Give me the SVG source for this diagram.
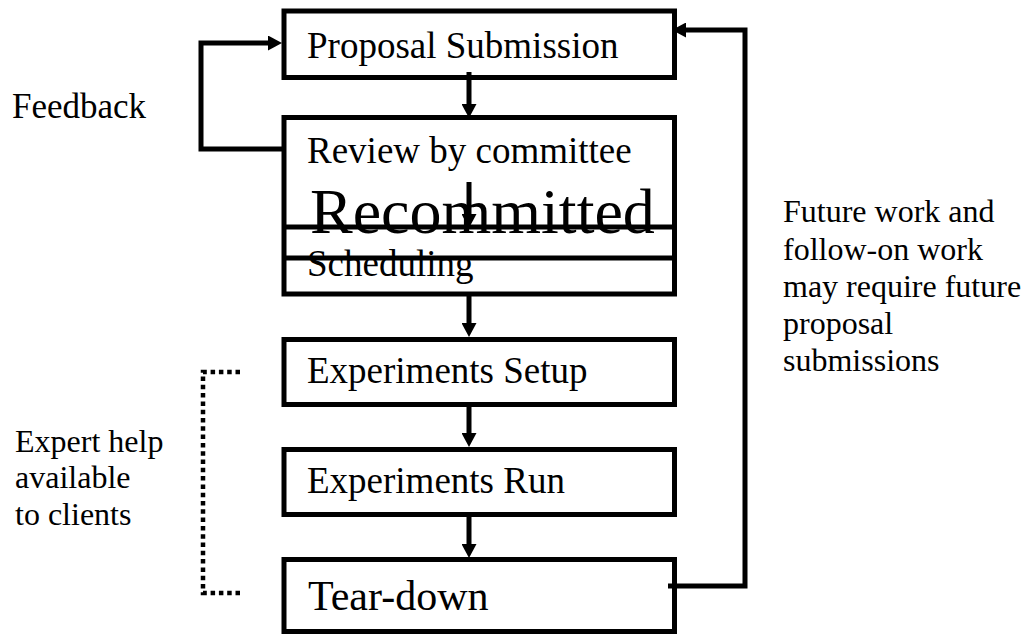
<svg xmlns="http://www.w3.org/2000/svg" width="1033" height="634" viewBox="0 0 1033 634" font-family="'Liberation Serif', 'Times New Roman', Times, 'DejaVu Serif', serif">
<defs>
<style>
.box{fill:none;stroke:#000;stroke-width:5}
.ln{fill:none;stroke:#000;stroke-width:5}
.dot{fill:none;stroke:#000;stroke-width:4.5;stroke-dasharray:4.5 3.8}
.lbl{font-family:'Liberation Serif','Times New Roman',Times,'DejaVu Serif',serif;fill:#000}
.t37{font-size:37px}
.t32{font-size:32px}
</style>
<marker id="ah" viewBox="0 0 14 15" refX="0" refY="7.5" markerWidth="14" markerHeight="15" markerUnits="userSpaceOnUse" orient="auto">
<path d="M0,0 L14,7.5 L0,15 z" fill="#000"/>
</marker>
</defs>
<rect width="1033" height="634" fill="#fff"/>
<g id="connectors">
<line class="ln" x1="469" y1="72" x2="469" y2="104" marker-end="url(#ah)"/>
<line class="ln" x1="469" y1="182" x2="469" y2="214" marker-end="url(#ah)"/>
<line class="ln" x1="469" y1="292" x2="469" y2="323" marker-end="url(#ah)"/>
<line class="ln" x1="469" y1="402" x2="469" y2="433" marker-end="url(#ah)"/>
<line class="ln" x1="469" y1="512" x2="469" y2="544" marker-end="url(#ah)"/>
<path class="ln" d="M284,149 L201,149 L201,43 L268,43" marker-end="url(#ah)"/>
<path class="ln" d="M668,586 L745,586 L745,30 L686,30" marker-end="url(#ah)"/>
<path class="dot" d="M240,372 L203,372 L203,593 L240,593"/>
</g>
<g id="proposal">
<rect class="box" x="284" y="11" width="390.5" height="66.5"/>
<text class="lbl t37" x="307" y="58">Proposal Submission</text>
</g>
<g id="review">
<rect class="box" x="284" y="117.5" width="390.5" height="176.5"/>
<text class="lbl t37" x="307" y="163">Review by committee</text>
</g>
<g id="recommitted">
<text class="lbl" x="310" y="233" font-size="64">Recommitted</text>
<line class="ln" x1="284" y1="227" x2="674.5" y2="227"/>
<line class="ln" x1="284" y1="258" x2="674.5" y2="258"/>
</g>
<g id="scheduling">
<text class="lbl t37" x="307" y="276">Scheduling</text>
</g>
<g id="setup">
<rect class="box" x="284" y="339.5" width="390.5" height="65"/>
<text class="lbl t37" x="307" y="383">Experiments Setup</text>
</g>
<g id="run">
<rect class="box" x="284" y="449.5" width="390.5" height="65"/>
<text class="lbl t37" x="307" y="493">Experiments Run</text>
</g>
<g id="teardown">
<rect class="box" x="284" y="559.5" width="390.5" height="72"/>
<text class="lbl" x="308" y="610" font-size="42">Tear-down</text>
</g>
<g id="feedback-label">
<text class="lbl" x="12" y="118" font-size="35">Feedback</text>
</g>
<g id="expert-label">
<text class="lbl t32" x="15" y="452">Expert help</text>
<text class="lbl t32" x="15" y="488">available</text>
<text class="lbl t32" x="15" y="525">to clients</text>
</g>
<g id="future-label">
<text class="lbl t32" x="783" y="222">Future work and</text>
<text class="lbl t32" x="783" y="259.5">follow-on work</text>
<text class="lbl t32" x="783" y="297">may require future</text>
<text class="lbl t32" x="783" y="333.5">proposal</text>
<text class="lbl t32" x="783" y="370.5">submissions</text>
</g>
</svg>
